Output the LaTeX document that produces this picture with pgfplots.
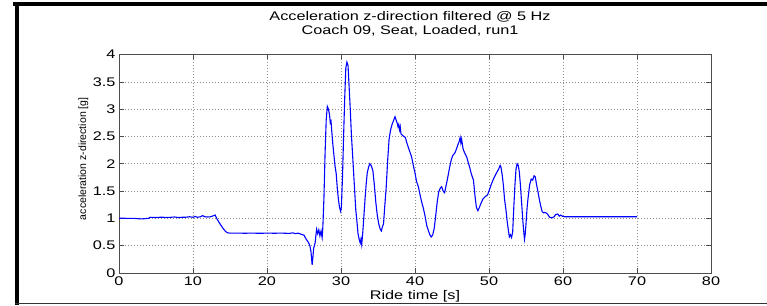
\documentclass[border=0pt]{standalone}
\usepackage{fontspec}
\setmainfont{Liberation Sans}[FakeStretch=1.3]
\newfontfamily\ylabfont{Liberation Sans}
\usepackage{pgfplots}
\pgfplotsset{compat=1.18}
\begin{document}
\begin{tikzpicture}
\useasboundingbox (0pt,0pt) rectangle (767pt,305pt);
% outer frame
\draw[line width=4pt,black] (13pt,300.5pt) -- (767pt,300.5pt);
\draw[line width=4pt,black] (17pt,302.5pt) -- (17pt,0.5pt);
\draw[line width=1.5pt,black!80] (15pt,1.5pt) -- (767pt,1.5pt);
\node[anchor=base,font=\fontsize{12.5}{14}\selectfont] at (410pt,284pt) {Acceleration z-direction filtered @ 5 Hz};
\node[anchor=base,font=\fontsize{12.5}{14}\selectfont] at (410pt,270pt) {Coach 09, Seat, Loaded, run1};
\begin{axis}[
  at={(119pt,32pt)}, anchor=south west,
  width=592pt, height=218.5pt, scale only axis,
  xmin=0, xmax=80, ymin=0, ymax=4,
  xtick={0,10,...,80}, ytick={0,0.5,...,4},
  grid=major,
  major grid style={dash pattern=on 1pt off 2pt, gray!90, line width=0.6pt},
  tick align=inside, major tick length=5pt,
  axis line style={gray!60!black, line width=0.8pt},
  tick style={gray!60!black, line width=0.6pt},
  ticklabel style={font=\fontsize{12.5}{14}\selectfont},
  /pgf/number format/assume math mode=true,
  yticklabel style={/pgf/number format/fixed},
  xlabel={Ride time [s]},
  xlabel style={at={(rel axis cs:0.5,0)}, anchor=base, yshift=-26pt, font=\fontsize{12.5}{14}\selectfont},
  ylabel={acceleration z-direction [g]},
  ylabel style={at={(rel axis cs:0,0.5)}, anchor=base, yshift=33pt, xshift=5pt, font=\ylabfont\fontsize{10.5}{12}\selectfont},
]
\addplot[blue, line width=1.1pt] table {
t a
0 1.00
0.5 1.005
1 1.00
1.5 1.00
2 1.00
2.5 0.995
3 0.99
3.5 0.995
4 1.00
4.2 1.02
5 1.015
5.5 1.02
6 1.02
6.5 1.015
7 1.02
7.5 1.025
8 1.015
8.5 1.02
9 1.02
9.5 1.03
10 1.02
10.3 1.035
10.6 1.02
11 1.03
11.3 1.05
11.6 1.03
12 1.025
12.4 1.03
12.8 1.05
13.0 1.06
13.2 1.0
13.5 0.93
13.8 0.87
14.1 0.81
14.4 0.76
14.7 0.735
15 0.73
16 0.73
17 0.728
18 0.73
19 0.727
20 0.73
21 0.728
22 0.73
23 0.725
23.5 0.735
23.8 0.72
24.2 0.73
24.5 0.715
24.8 0.70
25.0 0.695
25.2 0.64
25.4 0.6
25.6 0.56
25.8 0.5
25.95 0.38
26.1 0.15
26.2 0.28
26.3 0.45
26.5 0.55
26.7 0.8
26.85 0.72
27.0 0.79
27.15 0.68
27.3 0.77
27.45 0.65
27.55 0.85
27.7 1.4
27.85 2.2
28.0 2.8
28.15 3.05
28.3 3.0
28.45 2.9
28.55 2.75
28.65 2.78
28.75 2.6
28.9 2.35
29.05 2.15
29.2 1.95
29.35 1.82
29.5 1.55
29.65 1.35
29.8 1.2
29.95 1.13
30.05 1.2
30.2 1.75
30.35 2.5
30.5 3.2
30.65 3.75
30.8 3.86
30.95 3.8
31.1 3.4
31.25 3.0
31.4 2.55
31.55 2.2
31.7 1.85
31.85 1.5
32.0 1.15
32.15 0.95
32.3 0.72
32.45 0.62
32.6 0.55
32.7 0.62
32.8 0.52
32.95 0.76
33.1 1.05
33.25 1.36
33.4 1.62
33.55 1.84
33.75 1.95
33.9 2.0
34.1 1.96
34.3 1.88
34.5 1.62
34.7 1.3
34.9 1.06
35.1 0.9
35.3 0.8
35.45 0.77
35.6 0.85
35.75 0.9
35.9 1.2
36.1 1.55
36.3 2.05
36.5 2.45
36.7 2.62
36.9 2.72
37.1 2.79
37.3 2.86
37.4 2.82
37.5 2.78
37.6 2.74
37.7 2.68
37.8 2.72
37.9 2.62
38.0 2.68
38.1 2.55
38.3 2.52
38.5 2.5
38.7 2.48
38.9 2.38
39.1 2.3
39.3 2.22
39.55 2.12
39.8 1.95
40.0 1.83
40.2 1.68
40.45 1.58
40.7 1.42
40.9 1.3
41.1 1.2
41.35 1.05
41.6 0.86
41.8 0.78
42.0 0.7
42.2 0.66
42.4 0.7
42.6 0.82
42.8 1.05
43.0 1.3
43.2 1.48
43.4 1.55
43.6 1.58
43.8 1.5
44.0 1.47
44.2 1.6
44.4 1.73
44.7 1.95
44.9 2.07
45.1 2.15
45.4 2.2
45.6 2.27
45.8 2.35
46.0 2.42
46.1 2.48
46.2 2.38
46.3 2.45
46.5 2.27
46.7 2.2
47.0 2.12
47.2 2.02
47.4 1.93
47.6 1.82
47.9 1.7
48.1 1.42
48.3 1.2
48.5 1.14
48.7 1.2
48.9 1.27
49.2 1.36
49.5 1.4
49.8 1.43
50.0 1.5
50.3 1.62
50.6 1.72
51.0 1.83
51.3 1.9
51.5 1.97
51.6 1.95
51.8 1.78
51.95 1.6
52.1 1.35
52.3 1.15
52.45 0.95
52.6 0.8
52.75 0.66
52.9 0.7
53.05 0.65
53.2 0.75
53.35 1.2
53.5 1.6
53.65 1.9
53.8 2.0
53.95 1.97
54.1 1.85
54.25 1.6
54.4 1.3
54.55 1.0
54.7 0.75
54.8 0.62
54.9 0.72
55.0 0.9
55.15 1.2
55.3 1.4
55.5 1.62
55.7 1.72
55.9 1.7
56.1 1.78
56.25 1.76
56.45 1.6
56.6 1.5
56.8 1.35
57.0 1.22
57.2 1.12
57.4 1.1
57.6 1.11
57.9 1.08
58.2 1.02
58.5 1.01
58.8 1.03
59.0 1.07
59.3 1.08
59.5 1.04
59.7 1.06
59.9 1.04
60.2 1.03
61 1.03
65 1.03
70 1.03
};
\end{axis}
\end{tikzpicture}
\end{document}
